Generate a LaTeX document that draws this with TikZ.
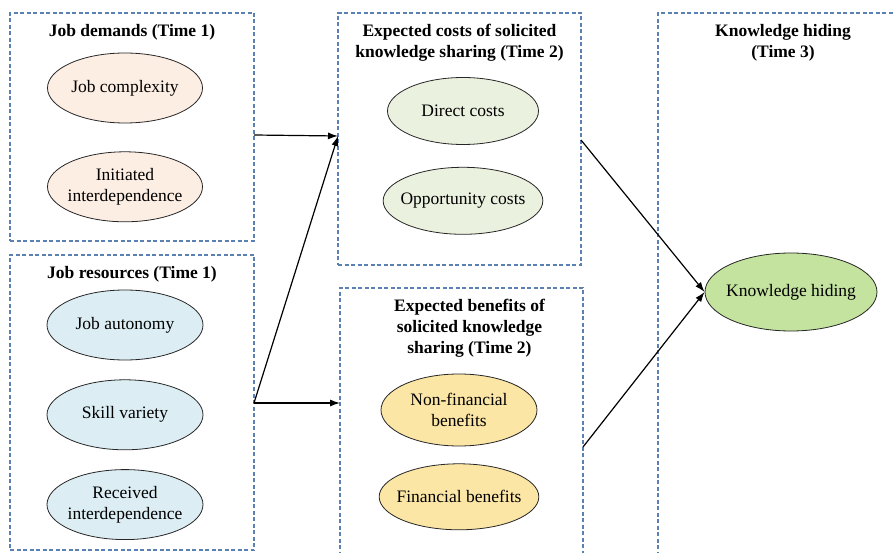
\documentclass[tikz,border=0pt]{standalone}
\usepackage{fontspec}
\setmainfont{Liberation Serif}
\usepackage{xcolor}
\usetikzlibrary{positioning,arrows.meta,shapes.geometric}

\definecolor{BoxBlue}{HTML}{5A80B4}
\definecolor{DemandFill}{HTML}{FDEEE4}
\definecolor{ResourceFill}{HTML}{DCEEF4}
\definecolor{CostFill}{HTML}{EBF1DF}
\definecolor{BenefitFill}{HTML}{FCE6A6}
\definecolor{HidingFill}{HTML}{C3E39F}

\begin{document}
\begin{tikzpicture}[
    x=1pt, y=-1pt,
    >={Latex[length=10pt,width=7pt]},
    every node/.style={font=\fontsize{17.5}{21}\selectfont, align=center},
    group/.style={draw=BoxBlue, line width=1.1pt, dash pattern=on 4pt off 2.5pt, inner sep=0pt},
    title/.style={font=\fontsize{17.5}{21}\selectfont\bfseries, inner sep=0pt},
    factor/.style={ellipse, draw=black!85, line width=0.8pt, minimum width=155pt,
minimum height=70pt, inner sep=-6pt},
    link/.style={->, line width=1.2pt}]

    \clip (0,0) rectangle (895,553);

    % dashed groups
    \node[group, minimum width=244pt, minimum height=228pt] (demands) at (132,127) {};
    \node[group, minimum width=244pt, minimum height=295pt] (resources) at (132,402.5) {};
    \node[group, minimum width=243pt, minimum height=252pt] (costs) at (459.5,139) {};
    \node[group, minimum width=243pt, minimum height=290pt] (benefits) at (461.5,433) {};
    \node[group, minimum width=250pt, minimum height=560pt] (hiding) at (783,293) {};

    % titles
    \node[title, below=12pt of demands.north] (demtitle) {Job demands (Time 1)};
    \node[title, below=12pt of resources.north] (restitle) {Job resources (Time 1)};
    \node[title, below=12pt of costs.north] (costtitle) {Expected costs of solicited\\knowledge sharing (Time 2)};
    \node[title, below=12pt of benefits.north, xshift=8pt] (bentitle) {Expected benefits of\\solicited knowledge\\sharing (Time 2)};
    \node[title, below=12pt of hiding.north] (hidetitle) {Knowledge hiding\\(Time 3)};

    % job demands
    \node[factor, fill=DemandFill] (complexity) at (125,88) {Job complexity};
        \node[factor, fill=DemandFill, below=28pt of complexity] (initiated) {Initiated\\interdependence};

    % job resources
    \node[factor, fill=ResourceFill, minimum width=156pt] (autonomy) at (125,325) {Job autonomy};
        \node[factor, fill=ResourceFill, minimum width=156pt, below=19pt of autonomy] (skill) {Skill variety};
        \node[factor, fill=ResourceFill, minimum width=156pt, below=19pt of skill] (received) {Received\\interdependence};

    % expected costs
    \node[factor, fill=CostFill, minimum width=151pt, minimum height=67pt] (direct) at (463,111) {Direct costs};
        \node[factor, fill=CostFill, minimum width=151pt, minimum height=67pt, below=22pt of direct] (opportunity) {Opportunity costs};

    % expected benefits
    \node[factor, fill=BenefitFill, minimum width=156pt, minimum height=72pt] (nonfin) at (459,410) {Non-financial\\benefits};
        \node[factor, fill=BenefitFill, minimum width=156pt, minimum height=66pt, below=17pt of nonfin] (financial) {Financial benefits};

    % outcome
    \node[factor, fill=HidingFill, minimum width=172pt, minimum height=78pt] (hide) at (791,292) {Knowledge hiding};

    % connectors
    \coordinate (demout) at (254,135);
    \coordinate (resout) at (254,403);
    \coordinate (costin) at (338,136);
    \coordinate (benin) at (340,403);
    \coordinate (costout) at (581,140);
    \coordinate (benout) at (583,447);

    \draw[link] (demout) -- (costin);
    \draw[link] (resout) -- (costin);
    \draw[link] (resout) -- (benin);
    \draw[link] (costout) -- (hide.west);
    \draw[link] (benout) -- (hide.west);

\end{tikzpicture}
\end{document}
